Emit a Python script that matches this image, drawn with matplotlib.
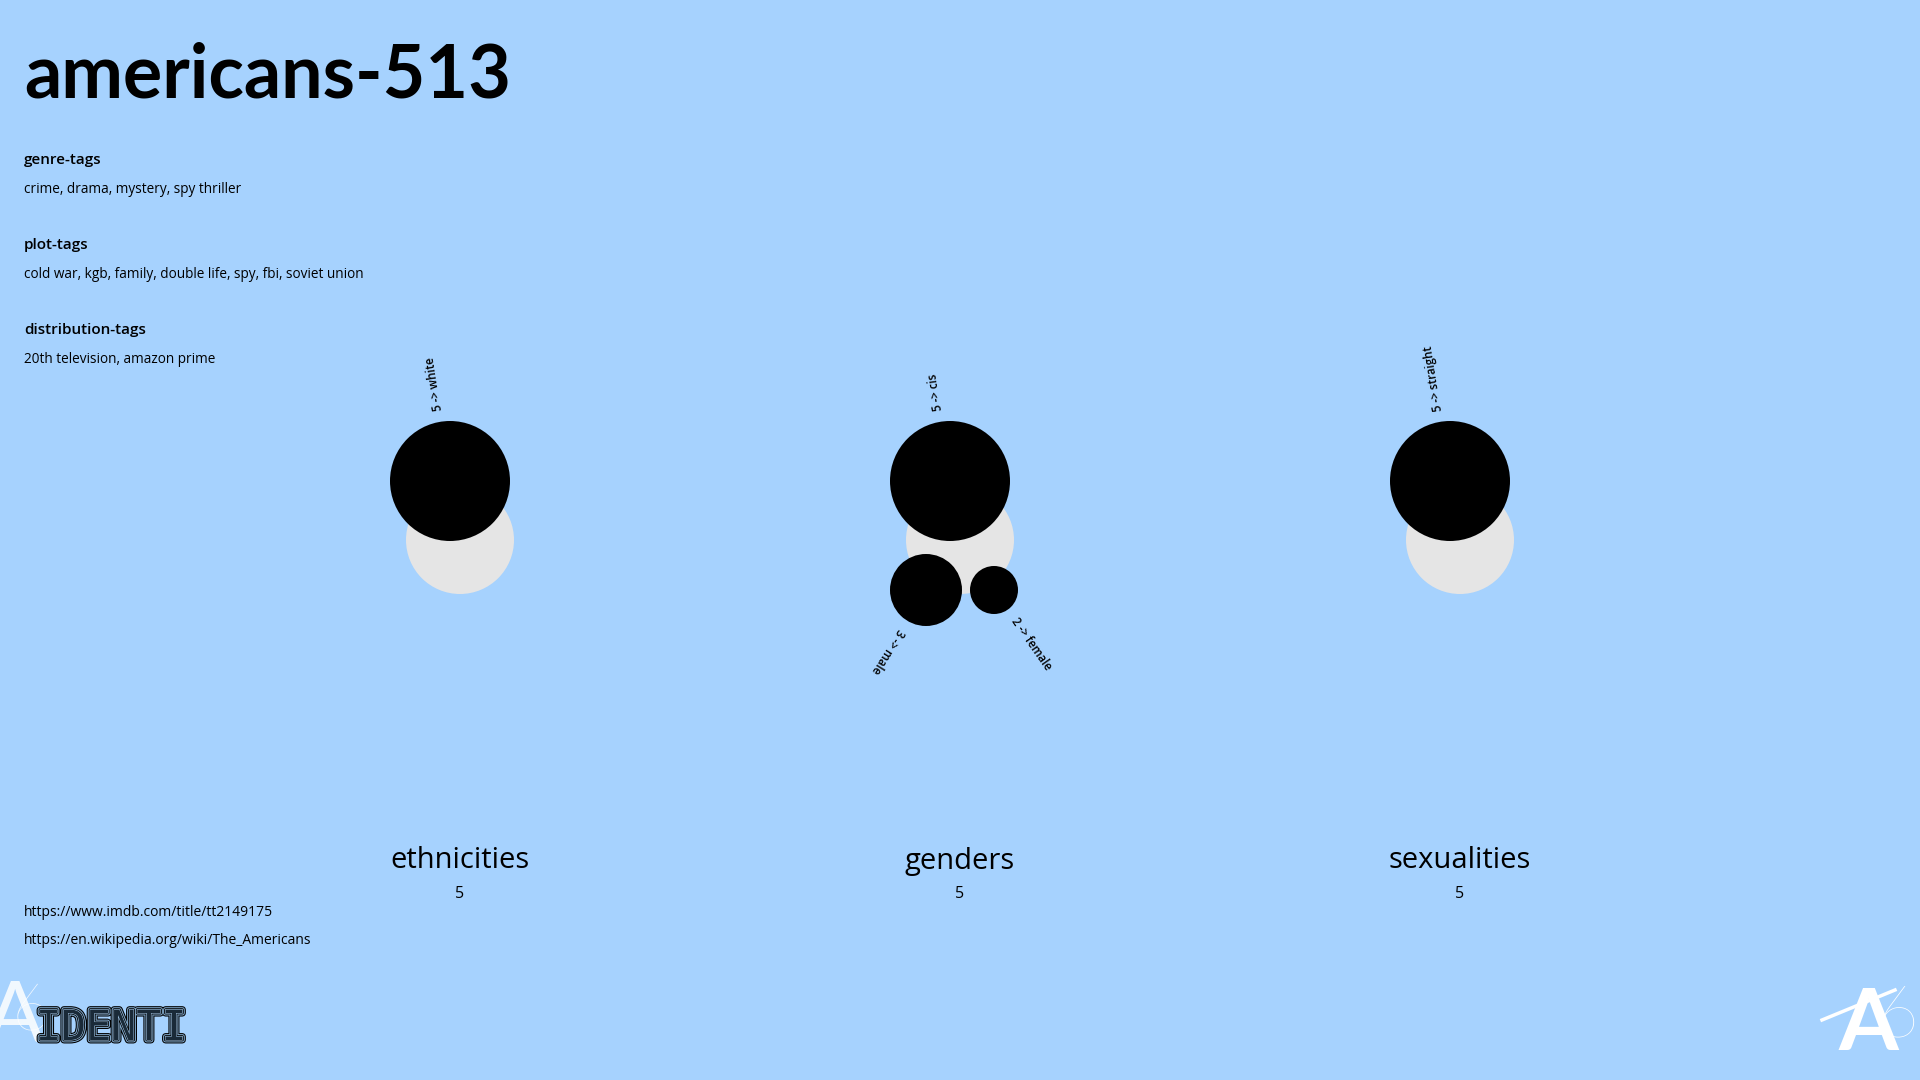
import numpy as np
import matplotlib
matplotlib.use("Agg")
import matplotlib.pyplot as plt
from matplotlib.patches import Circle
import matplotlib.patheffects as pe

plt.rcParams["font.family"] = ["Lato", "DejaVu Sans"]
BODY = ["Open Sans", "DejaVu Sans"]

BG = "#a6d2fe"
GREY = "#e5e5e5"

title = "americans-513"
tag_headers = ["genre-tags", "plot-tags", "distribution-tags"]
tag_values = [
    "crime, drama, mystery, spy thriller",
    "cold war, kgb, family, double life, spy, fbi, soviet union",
    "20th television, amazon prime",
]
urls = ["https://www.imdb.com/title/tt2149175", "https://en.wikipedia.org/wiki/The_Americans"]

groups = ["ethnicities", "genders", "sexualities"]
group_totals = [5, 5, 5]
top_labels = ["white", "cis", "straight"]
top_values = [5, 5, 5]
gender_labels = ["male", "female"]
gender_values = [3, 2]

fig = plt.figure(figsize=(19.2, 10.8), dpi=100, facecolor=BG)
ax = fig.add_axes([0, 0, 1, 1], facecolor=BG)
ax.set_xlim(0, 1920)
ax.set_ylim(1080, 0)
ax.axis("off")

# header block
ax.text(24, 98, title, fontsize=53, fontweight="bold", va="baseline", ha="left")
for i, (h, v) in enumerate(zip(tag_headers, tag_values)):
    y = 164 + i * 85
    ax.text(24, y, h, fontsize=11, fontweight="semibold", va="baseline", family=BODY)
    ax.text(24, y + 29, v, fontsize=9.8, va="baseline", family=BODY)

for i, u in enumerate(urls):
    ax.text(24, 912 + i * 28, u, fontsize=10, va="center", family=BODY)

SCALE = 12  # px of radius per unit


def radial_label(cx, cy, r, angle, text):
    a = np.deg2rad(angle)
    d = r + 11
    ax.text(cx + d * np.cos(a), cy - d * np.sin(a), text, rotation=angle,
            rotation_mode="anchor", ha="left", va="center",
            fontsize=8.3, fontweight="semibold", family=BODY)


col_x = [450, 950, 1450]
cy = 481
for i, g in enumerate(groups):
    cx = col_x[i]
    ax.add_patch(Circle((cx + 10, cy + 59), group_totals[i] * 10.8, color=GREY, lw=0))
    r = top_values[i] * SCALE
    ax.add_patch(Circle((cx, cy), r, color="black", lw=0))
    radial_label(cx, cy, r, 99, f"{top_values[i]} -> {top_labels[i]}")
    ax.text(cx + 10, 861, g, fontsize=21, ha="center", va="center", family=BODY)
    ax.text(cx + 10, 894, str(group_totals[i]), fontsize=11.5, ha="center", va="center", family=BODY)

# gender breakdown below
x0 = col_x[1] - 60
angles = [-122, -55]
for lab, val, ang in zip(gender_labels, gender_values, angles):
    r = val * SCALE
    cx = x0 + r
    ax.add_patch(Circle((cx, 590), r, color="black", lw=0))
    radial_label(cx, 590, r, ang, f"{val} -> {lab}")
    x0 += 2 * r + 8

# logos
stripes = [pe.withStroke(linewidth=5, foreground="black"),
           pe.withStroke(linewidth=3.5, foreground="#7fa6c8"),
           pe.withStroke(linewidth=2, foreground="black"),
           pe.withStroke(linewidth=0.8, foreground="#9fc4e6")]
ax.text(-14, 1042, "A", fontsize=62, color="white", va="baseline", alpha=0.85)
ax.text(12, 1030, "6", fontsize=48, color="white", va="baseline", fontweight="light", alpha=0.85)
ax.text(36, 1040, "IDENTI", fontsize=30, color="#1a2a38", va="baseline",
        family="DejaVu Sans Mono", path_effects=stripes)
ax.text(1838, 1050, "A", fontsize=62, color="white", va="baseline", fontweight="bold")
ax.text(1876, 1038, "6", fontsize=52, color="white", va="baseline", fontweight="light")
ax.plot([1822, 1895], [1020, 990], color="white", lw=2.5)

fig.savefig("out.png", dpi=100, facecolor=BG)
